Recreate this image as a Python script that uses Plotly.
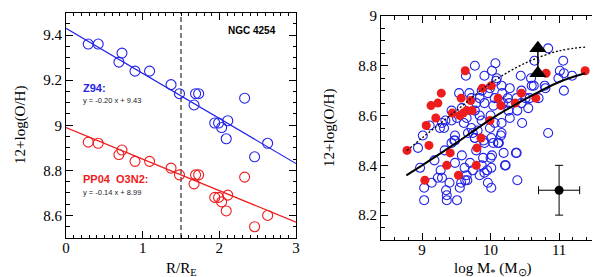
import plotly.graph_objects as go

# ---------------- Left panel data (NGC 4254) ----------------
r_re = [0.29, 0.42, 0.73, 0.69, 0.90, 1.09, 1.37, 1.48, 1.67, 1.69, 1.73,
        2.33, 1.94, 1.99, 2.11, 2.03, 2.09, 2.63, 2.46]
z94_oh = [9.36, 9.36, 9.32, 9.28, 9.24, 9.24, 9.18, 9.14, 9.09, 9.14, 9.14,
          9.12, 9.01, 9.01, 9.02, 8.99, 8.94, 8.92, 8.86]
pp04_oh = [8.925, 8.92, 8.89, 8.87, 8.84, 8.84, 8.81, 8.78, 8.74, 8.78, 8.78,
           8.77, 8.68, 8.68, 8.69, 8.66, 8.62, 8.60, 8.55]
fit_x = [0, 3]
z94_fit_y = [9.43, 8.83]
pp04_fit_y = [8.99, 8.57]
r_eff_line = [1.5, 1.5]
r_eff_y = [8.5, 9.5]

# ---------------- Right panel data (mass-metallicity) ----------------
blue_mass = [10.84, 10.64, 10.07, 9.77, 10.02, 9.91, 10.09, 10.44, 10.59, 11.06, 11.01,
             11.07, 11.19, 10.99, 11.07, 10.80, 10.79, 10.60, 10.63, 10.28, 10.16,
             10.17, 9.99, 9.87, 9.69, 9.72, 9.84, 9.96, 10.06, 10.25, 10.38, 10.45,
             10.51, 10.57, 10.70, 10.45, 10.55, 10.18, 10.27, 10.26, 10.28, 10.39,
             10.46, 10.84, 10.04, 9.91, 9.79, 9.54, 9.58, 9.51, 9.43, 9.43, 9.65,
             9.77, 9.84, 9.87, 10.00, 10.06, 10.16, 10.16, 9.99, 10.01, 10.11, 9.81,
             9.72, 9.67, 9.61, 9.74, 9.77, 9.91, 9.48, 9.47, 9.34, 9.29, 9.26, 9.32,
             9.01, 9.11, 8.94, 9.64, 10.08,
             8.97, 9.03, 9.03, 9.14, 9.18, 9.23, 9.27, 9.29, 9.35, 9.36, 9.36,
             9.40, 9.48, 9.51, 9.55, 9.57, 9.58, 9.62, 9.63, 9.66, 9.65, 9.70,
             9.74, 9.79, 9.84, 9.87, 9.89, 9.91, 9.96, 10.00, 10.01, 9.95, 10.01,
             10.04, 10.12, 10.19, 10.22, 10.38, 10.39, 9.48, 9.33, 9.43, 9.77,
             9.90, 10.15, 10.02, 10.11, 10.21, 10.37]
blue_oh = [8.87, 8.82, 8.81, 8.80, 8.78, 8.76, 8.75, 8.76, 8.75, 8.82, 8.78,
           8.77, 8.76, 8.75, 8.70, 8.71, 8.72, 8.72, 8.72, 8.71, 8.72,
           8.69, 8.71, 8.70, 8.69, 8.67, 8.67, 8.69, 8.67, 8.67, 8.67, 8.70,
           8.67, 8.67, 8.67, 8.65, 8.63, 8.65, 8.65, 8.62, 8.59, 8.62,
           8.57, 8.53, 8.64, 8.65, 8.65, 8.69, 8.63, 8.59, 8.62, 8.58, 8.59,
           8.62, 8.60, 8.58, 8.60, 8.57, 8.57, 8.53, 8.55, 8.51, 8.49, 8.54,
           8.55, 8.53, 8.57, 8.53, 8.51, 8.49, 8.52, 8.50, 8.58, 8.57, 8.55, 8.55,
           8.52, 8.56, 8.47, 8.76, 8.74,
           8.39, 8.31, 8.26, 8.33, 8.42, 8.35, 8.38, 8.35, 8.30, 8.28, 8.26,
           8.33, 8.41, 8.26, 8.31, 8.33, 8.44, 8.39, 8.34, 8.34, 8.36, 8.41,
           8.38, 8.46, 8.36, 8.40, 8.43, 8.37, 8.33, 8.43, 8.31, 8.38, 8.39,
           8.49, 8.49, 8.45, 8.40, 8.45, 8.34, 8.50, 8.46, 8.49, 8.51,
           8.50, 8.52, 8.44, 8.49, 8.40, 8.45]
red_mass = [8.78, 9.04, 9.06, 9.10, 9.13, 9.20, 9.23, 9.28, 9.36, 9.41, 9.44,
            9.53, 9.55, 9.57, 9.60, 9.63, 9.65, 9.71, 9.73, 9.79, 9.80, 9.86,
            9.88, 9.99, 10.01, 10.11, 10.15, 10.36, 10.45, 10.66, 10.81, 11.38]
red_oh = [8.46, 8.34, 8.56, 8.48, 8.64, 8.59, 8.65, 8.69, 8.40, 8.45, 8.61,
          8.36, 8.60, 8.67, 8.61, 8.78, 8.62, 8.66, 8.62, 8.40, 8.47, 8.51,
          8.71, 8.58, 8.72, 8.67, 8.64, 8.65, 8.69, 8.67, 8.77, 8.78]
mzr_solid_x = [8.77, 9.0, 9.5, 10.0, 10.5, 11.0, 11.38]
mzr_solid_y = [8.36, 8.40, 8.49, 8.585, 8.665, 8.735, 8.77]
mzr_dot_x = [8.78, 9.0, 9.5, 10.0, 10.5, 11.0, 11.38]
mzr_dot_y = [8.46, 8.51, 8.62, 8.73, 8.81, 8.86, 8.875]
limit_mass = [10.69, 10.69]
limit_oh = [8.77, 8.87]
err_mass = [11.0]
err_oh = [8.30]
err_dx = [0.3]
err_dy = [0.1]

BLUE = "#2323e8"
RED = "#ee1c1c"
SERIF = "Liberation Serif"
SANS = "Liberation Sans"

fig = go.Figure()

# Left panel
fig.add_trace(go.Scatter(x=r_eff_line, y=r_eff_y, mode="lines",
                         line=dict(color="black", width=1, dash="5px,3px"),
                         xaxis="x", yaxis="y", showlegend=False))
fig.add_trace(go.Scatter(x=fit_x, y=z94_fit_y, mode="lines",
                         line=dict(color=BLUE, width=1.2), xaxis="x", yaxis="y", showlegend=False))
fig.add_trace(go.Scatter(x=fit_x, y=pp04_fit_y, mode="lines",
                         line=dict(color=RED, width=1.2), xaxis="x", yaxis="y", showlegend=False))
fig.add_trace(go.Scatter(x=r_re, y=z94_oh, mode="markers",
                         marker=dict(symbol="circle-open", size=10, color=BLUE, line=dict(width=1.1)),
                         xaxis="x", yaxis="y", showlegend=False))
fig.add_trace(go.Scatter(x=r_re, y=pp04_oh, mode="markers",
                         marker=dict(symbol="circle-open", size=10, color=RED, line=dict(width=1.1)),
                         xaxis="x", yaxis="y", showlegend=False))

# Right panel
fig.add_trace(go.Scatter(x=blue_mass, y=blue_oh, mode="markers",
                         marker=dict(symbol="circle-open", size=9, color=BLUE, line=dict(width=1.1)),
                         xaxis="x2", yaxis="y2", showlegend=False))
fig.add_trace(go.Scatter(x=red_mass, y=red_oh, mode="markers",
                         marker=dict(symbol="circle", size=9, color=RED),
                         xaxis="x2", yaxis="y2", showlegend=False))
fig.add_trace(go.Scatter(x=mzr_dot_x, y=mzr_dot_y, mode="lines", line_shape="spline",
                         line=dict(color="black", width=1.3, dash="2px,2px"),
                         xaxis="x2", yaxis="y2", showlegend=False))
fig.add_trace(go.Scatter(x=mzr_solid_x, y=mzr_solid_y, mode="lines", line_shape="spline",
                         line=dict(color="black", width=2),
                         xaxis="x2", yaxis="y2", showlegend=False))
fig.add_trace(go.Scatter(x=limit_mass, y=limit_oh, mode="lines+markers",
                         line=dict(color="black", width=1.5),
                         marker=dict(symbol="triangle-up", size=15, color="black"),
                         xaxis="x2", yaxis="y2", showlegend=False))
fig.add_trace(go.Scatter(x=err_mass, y=err_oh, mode="markers",
                         marker=dict(symbol="circle", size=9, color="black"),
                         error_x=dict(type="data", array=err_dx, color="black", thickness=1, width=4),
                         error_y=dict(type="data", array=err_dy, color="black", thickness=1, width=4),
                         xaxis="x2", yaxis="y2", showlegend=False))

axis_common = dict(showline=True, linecolor="black", linewidth=1, mirror="allticks",
                   ticks="inside", ticklen=7, tickwidth=1, tickcolor="black",
                   showgrid=False, zeroline=False, automargin=False,
                   tickfont=dict(family=SERIF, size=15, color="black"))

fig.update_layout(
    width=600, height=277, margin=dict(l=0, r=0, t=0, b=0),
    template="none", paper_bgcolor="white", plot_bgcolor="white", showlegend=False,
    xaxis=dict(domain=[58/600, 288/600], range=[0, 3], dtick=1, anchor="y",
               ticklabelstandoff=-4,
               minor=dict(dtick=0.1, ticks="inside", ticklen=3.5, tickcolor="black"),
               **axis_common),
    yaxis=dict(domain=[47/277, 272.5/277], range=[8.5, 9.5], tickvals=[8.6, 8.8, 9.0, 9.2, 9.4],
               ticktext=["8.6", "8.8", "9", "9.2", "9.4"], anchor="x",
               minor=dict(dtick=0.05, ticks="inside", ticklen=3.5, tickcolor="black"),
               **axis_common),
    xaxis2=dict(domain=[373/600, 597/600], range=[8.4, 11.67], tickvals=[9, 10, 11], anchor="y2",
                ticklabelstandoff=-4,
                minor=dict(tick0=8.4, dtick=0.2, ticks="inside", ticklen=3.5, tickcolor="black"),
                **axis_common),
    yaxis2=dict(domain=[45/277, 269/277], range=[8.1, 9.0], tickvals=[8.2, 8.4, 8.6, 8.8, 9.0],
                ticktext=["8.2", "8.4", "8.6", "8.8", "9"], anchor="x2",
                minor=dict(dtick=0.05, ticks="inside", ticklen=3.5, tickcolor="black"),
                **axis_common),
)

def px_x(v):
    return v / 600

def px_y(v):
    return 1 - v / 277

ann = [
    dict(text="12+log(O/H)", x=px_x(12), y=px_y(117), textangle=-90,
         font=dict(family=SERIF, size=15, color="black")),
    dict(text="R/R<sub>E</sub>", x=px_x(173), y=px_y(261),
         font=dict(family=SERIF, size=15, color="black")),
    dict(text="12+log(O/H)", x=px_x(322), y=px_y(120), textangle=-90,
         font=dict(family=SERIF, size=15, color="black")),
    dict(text="log M<sub>*</sub> (M<sub>⊙</sub>)", x=px_x(485), y=px_y(261),
         font=dict(family=SERIF, size=15, color="black")),
    dict(text="<b>NGC 4254</b>", x=px_x(244), y=px_y(23),
         font=dict(family=SANS, size=10, color="black")),
    dict(text="<b>Z94:</b>", x=px_x(73), y=px_y(80), xanchor="left",
         font=dict(family=SANS, size=11, color=BLUE)),
    dict(text="y = -0.20 x + 9.43", x=px_x(73), y=px_y(92), xanchor="left",
         font=dict(family=SANS, size=7.5, color="#222222")),
    dict(text="<b>PP04  O3N2:</b>", x=px_x(73), y=px_y(171), xanchor="left",
         font=dict(family=SANS, size=11, color=RED)),
    dict(text="y = -0.14 x + 8.99", x=px_x(73), y=px_y(184), xanchor="left",
         font=dict(family=SANS, size=7.5, color="#222222")),
]
for a in ann:
    a.setdefault("xanchor", "center")
    a.update(xref="paper", yref="paper", yanchor="middle", showarrow=False)
fig.update_layout(annotations=ann)

fig.write_html("out.html")
